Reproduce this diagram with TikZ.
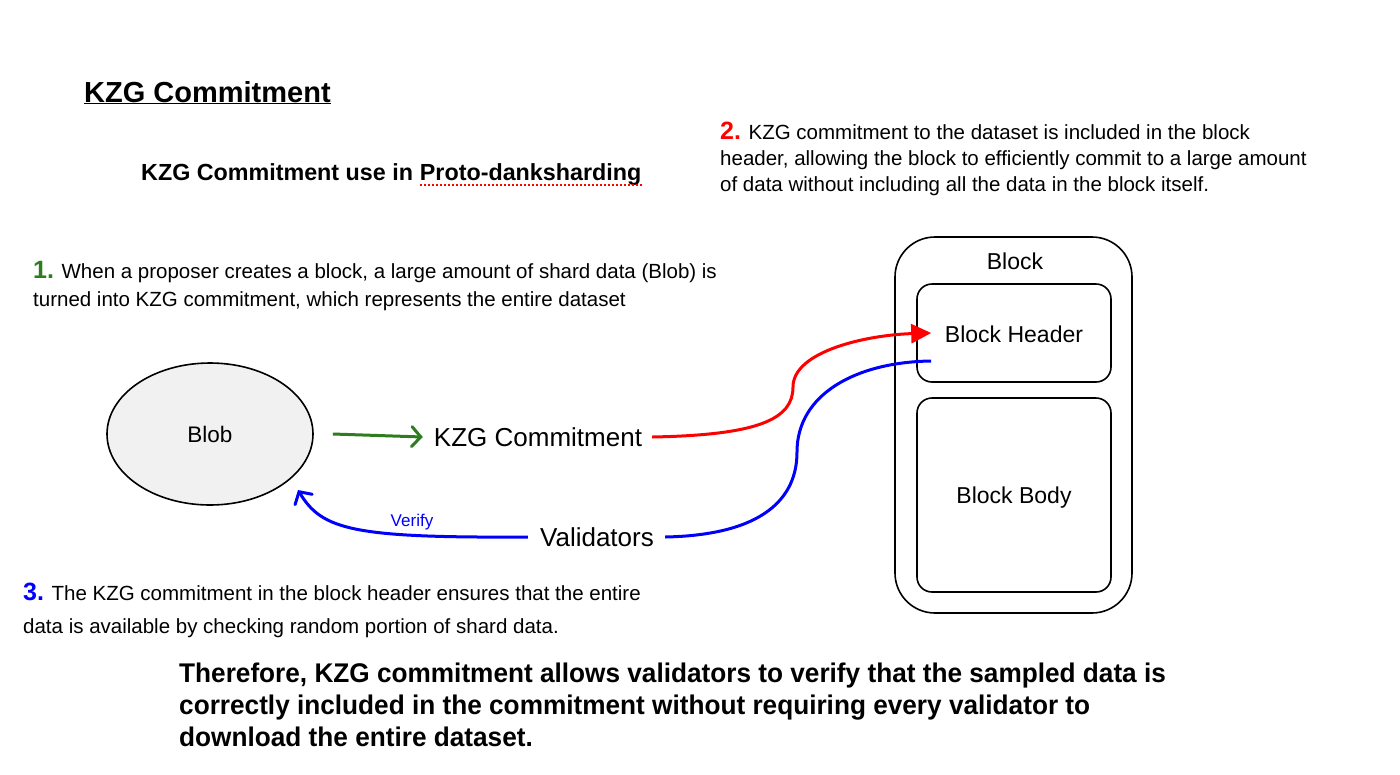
\documentclass[tikz,border=0pt]{standalone}
\usepackage{fontspec}
\setmainfont{Liberation Sans}
\newfontfamily\condfont[FakeStretch=0.97]{Liberation Sans}
\usetikzlibrary{shapes.geometric,arrows.meta}
\definecolor{kgreen}{RGB}{45,125,30}
\definecolor{kred}{RGB}{255,0,0}
\definecolor{kblue}{RGB}{0,0,255}
\definecolor{blobfill}{RGB}{241,241,241}
\tikzset{
  para/.style={anchor=north west, inner sep=0, align=left},
  boxr/.style={draw, line width=1.6, rounded corners=#1, inner sep=0},
  lbl/.style={inner sep=0, font=\fontsize{23}{26}\selectfont},
  conn/.style={line width=3},
}
\begin{document}
\begin{tikzpicture}[x=1pt,y=-1pt]
\useasboundingbox[fill=white] (0,0) rectangle (1400,774);

% titles
\node[anchor=base west, inner sep=0, font=\fontsize{29}{32}\selectfont\bfseries] (title) at (84,102) {\underline{KZG Commitment}};
\node[anchor=base west, inner sep=0, font=\fontsize{23.3}{26}\selectfont\bfseries] (sub1) at (141,180) {KZG Commitment use in};
\node[anchor=base west, inner sep=0, font=\fontsize{23.3}{26}\selectfont\bfseries] (sub2) at ([xshift=6.5]sub1.base east) {Proto-danksharding};
\draw[kred, line width=1.3, dash pattern=on 2 off 2] ([yshift=-5]sub2.base west) -- ([yshift=-5]sub2.base east);

% paragraphs
\node[para, font=\fontsize{20.5}{26}\selectfont] (p2) at (720,122)
  {{\color{kred}\fontsize{25}{26}\selectfont\bfseries 2.} KZG commitment to the dataset is included in the block\\
   header, allowing the block to efficiently commit to a large amount\\
   of data without including all the data in the block itself.};
\node[para, font=\fontsize{20.5}{28}\selectfont] (p1) at (33,261)
  {{\color{kgreen}\fontsize{25}{28}\selectfont\bfseries 1.} When a proposer creates a block, a large amount of shard data (Blob) is\\
   turned into KZG commitment, which represents the entire dataset};
\node[para, font=\fontsize{20.5}{33}\selectfont] (p3) at (23,583)
  {{\color{kblue}\fontsize{25}{33}\selectfont\bfseries 3.} The KZG commitment in the block header ensures that the entire\\
   data is available by checking random portion of shard data.};
\node[para, font=\fontsize{27}{32}\condfont\bfseries] (concl) at (179,663)
  {Therefore, KZG commitment allows validators to verify that the sampled data is\\
   correctly included in the commitment without requiring every validator to\\
   download the entire dataset.};

% blob and labels
\node[ellipse, draw, line width=1.6, fill=blobfill, minimum width=206, minimum height=142, inner sep=0, font=\fontsize{22.5}{24}\selectfont] (blob) at (210,434) {Blob};
\node[inner sep=0, font=\fontsize{26}{28}\selectfont] (kzg) at (538,437) {KZG Commitment};
\node[inner sep=0, font=\fontsize{26}{28}\selectfont] (val) at (597,537) {Validators};

% block
\node[boxr=40, minimum width=237, minimum height=376] (block) at (1013.5,425) {};
\node[lbl] (blocklbl) at (1015,261) {Block};
\node[boxr=15, minimum width=194, minimum height=98] (hdr) at (1014,333) {};
\node[lbl] (hdrlbl) at (1014,334) {Block Header};
\node[boxr=15, minimum width=194, minimum height=194] (body) at (1014,495) {};
\node[lbl] (bodylbl) at (1014,498) {Block Body};

% connector ends
\coordinate (g0) at ([xshift=19]blob.east);
\coordinate (g1) at ([xshift=-11]kzg.west);
\coordinate (r0) at ([xshift=10]kzg.east);
\coordinate (rm) at (793,387);
\coordinate (rh) at ([xshift=15]hdr.west);
\coordinate (b0) at ([xshift=11]val.east);
\coordinate (bm) at (797,452);
\coordinate (bh) at ([shift={(15,28)}]hdr.west);
\coordinate (v0) at ([xshift=-12]val.west);
\coordinate (vt) at ([shift={(88,56)}]blob.center);

% connectors
\draw[conn, kgreen, -{Straight Barb[length=9, width=20, line cap=round]}] (g0) -- (g1);
\draw[conn, kred, -{Triangle[length=20, width=19]}] (r0) .. controls +(107,-2) and +(0,32) .. (rm) .. controls +(0,-36) and +(-64,2) .. (rh);
\draw[conn, kblue] (b0) .. controls +(100,-2) and +(0,45) .. (bm) .. controls +(0,-58) and +(-75,1) .. (bh);
\draw[conn, kblue, -{Straight Barb[length=9, width=20, line cap=round]}] (v0) .. controls +(-175,1) and +(24,40) .. (vt);
\node[inner sep=0, font=\fontsize{17}{18}\selectfont, text=kblue] (verify) at (412,522) {Verify};
\end{tikzpicture}
\end{document}
